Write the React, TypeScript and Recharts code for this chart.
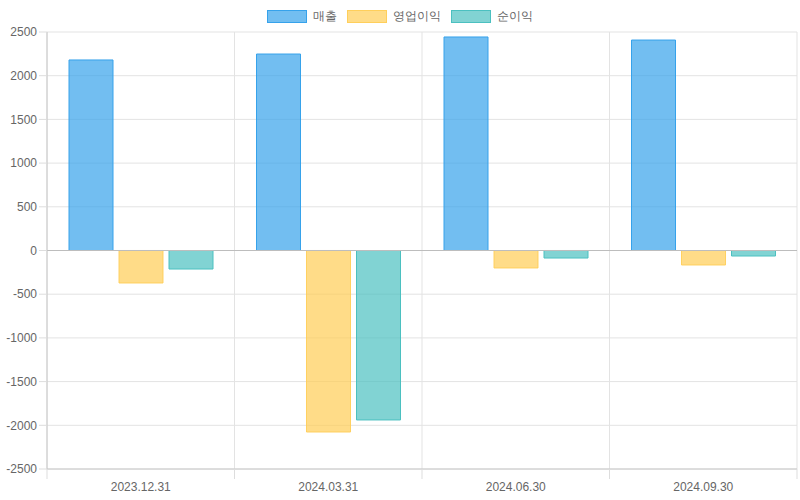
import React from 'react'
import {
  BarChart, Bar, XAxis, YAxis, CartesianGrid, Legend, ReferenceLine,
} from 'recharts'

const periods = ['2023.12.31', '2024.03.31', '2024.06.30', '2024.09.30']
const revenue = [2180, 2248, 2443, 2408]
const operatingProfit = [-372, -2077, -200, -166]
const netProfit = [-212, -1939, -86, -63]
const yTicks = [-2500, -2000, -1500, -1000, -500, 0, 500, 1000, 1500, 2000, 2500]

const SERIES = [
  { key: 'revenue', name: '매출', fill: 'rgba(54,162,235,0.7)', stroke: 'rgb(54,162,235)' },
  { key: 'op', name: '영업이익', fill: 'rgba(255,205,86,0.7)', stroke: 'rgba(255,205,86,0.9)' },
  { key: 'net', name: '순이익', fill: 'rgba(75,192,192,0.7)', stroke: 'rgb(75,192,192)' },
]

const data = periods.map((p, i) => ({
  period: p,
  revenue: revenue[i],
  op: operatingProfit[i],
  net: netProfit[i],
}))

const FONT = 'Liberation Sans, Arial, Helvetica, sans-serif'

function LegendBox() {
  return (
    <div style={{ display: 'flex', justifyContent: 'center', fontFamily: FONT, fontSize: 12, color: '#666' }}>
      {SERIES.map(s => (
        <div key={s.key} style={{ display: 'flex', alignItems: 'center', margin: '0 5px' }}>
          <span style={{
            display: 'inline-block', width: 38, height: 11, background: s.fill,
            border: `1px solid ${s.stroke}`, marginRight: 6,
          }} />
          <span>{s.name}</span>
        </div>
      ))}
    </div>
  )
}

// category label plus tick marks on the category boundaries
function XTick(props: any) {
  const { x, y, payload, index } = props
  const half = payload?.offset ?? 93.75
  return (
    <g>
      <line x1={x - half} x2={x - half} y1={y - 8} y2={y + 2} stroke="#ddd" />
      {index === periods.length - 1 && (
        <line x1={x + half} x2={x + half} y1={y - 8} y2={y + 2} stroke="#ddd" />
      )}
      <text x={x} y={y + 14} textAnchor="middle" fill="#666" fontSize={12} fontFamily={FONT}>
        {payload.value}
      </text>
    </g>
  )
}

export default function App() {
  return (
    <div style={{ position: 'absolute', left: 0, top: 0, width: 800, height: 500, background: '#fff' }}>
      <BarChart
        width={800}
        height={500}
        data={data}
        margin={{ top: 15, right: 3, left: 0, bottom: 0 }}
        barSize={44}
        barGap={6}
      >
        <CartesianGrid
          stroke="#e3e3e3"
          verticalCoordinatesGenerator={({ offset }: any) => {
            const left = offset?.left ?? 47
            const w = offset?.width ?? 750
            return periods.map((_, i) => left + (i * w) / periods.length).concat(left + w)
          }}
        />
        <Legend verticalAlign="top" content={() => <LegendBox />} wrapperStyle={{ top: 8, left: 0, width: 800 }} />
        <XAxis
          dataKey="period"
          height={31}
          axisLine={{ stroke: '#c8c8c8' }}
          tickLine={false}
          tick={<XTick />}
          interval={0}
        />
        <YAxis
          width={47}
          domain={[-2500, 2500]}
          ticks={yTicks}
          interval={0}
          axisLine={{ stroke: '#c8c8c8' }}
          tickLine={{ stroke: '#ddd' }}
          tickSize={8}
          tickMargin={2}
          tick={{ fill: '#666', fontSize: 12, fontFamily: FONT }}
        />
        {SERIES.map(s => (
          <Bar
            key={s.key}
            dataKey={s.key}
            name={s.name}
            fill={s.fill}
            stroke={s.stroke}
            strokeWidth={1}
            isAnimationActive={false}
          />
        ))}
        <ReferenceLine y={0} stroke="#bdbdbd" />
      </BarChart>
    </div>
  )
}
